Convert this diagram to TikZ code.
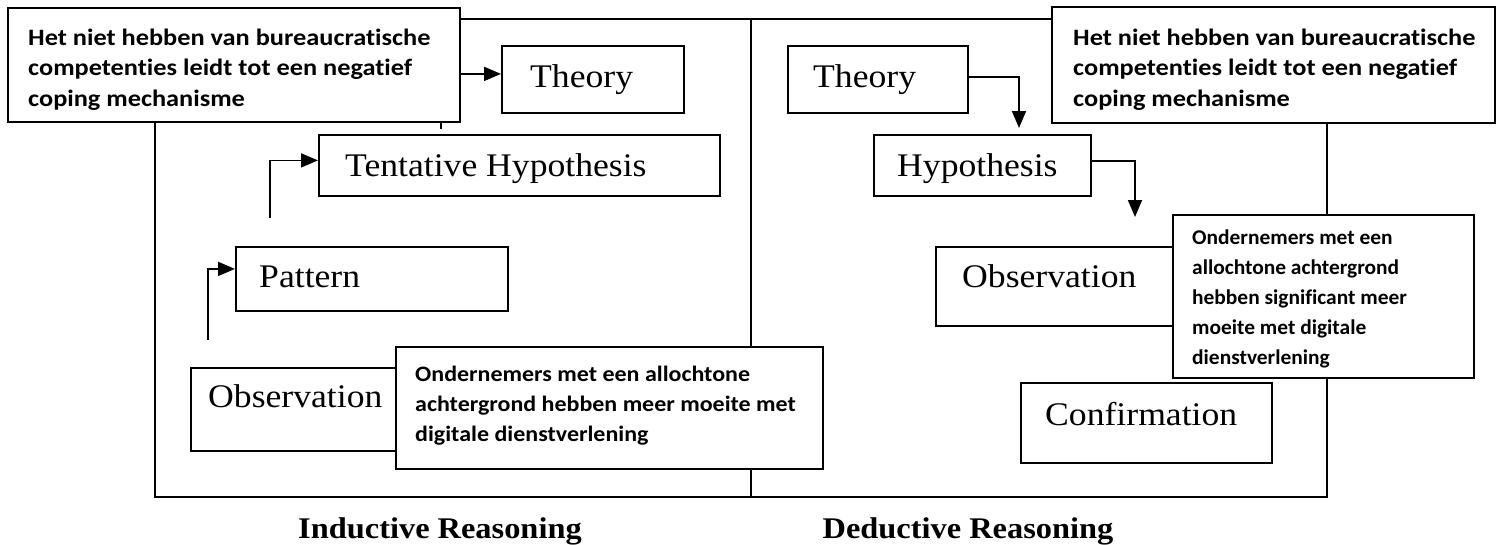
\documentclass[tikz,border=0pt]{standalone}
\usepackage{fontspec}
\usetikzlibrary{arrows.meta,calc}
\newfontfamily\notefontA[FakeStretch=1.12,Ligatures=NoCommon]{Carlito}
\newfontfamily\notefontB[FakeStretch=1.09,Ligatures=NoCommon]{Carlito}
\newfontfamily\notefontC[FakeStretch=1.02,Ligatures=NoCommon]{Carlito}
\newfontfamily\termfont[FakeStretch=1.08]{Liberation Serif}

\begin{document}
\begin{tikzpicture}[x=1pt,y=-1pt,
  stagebox/.style={draw=black, line width=1.8pt, fill=white, inner sep=0pt, anchor=north west},
  notebox/.style={draw=black, line width=1.8pt, fill=white, inner sep=0pt, anchor=north west},
  termtext/.style={anchor=base west, inner sep=0pt, font=\termfont\fontsize{33}{38}\selectfont},
  % multi-line notes: the base anchor sits on the last line
  notetext/.style={anchor=base west, inner sep=0pt, align=left},
  flow/.style={draw=black, line width=1.8pt, -{Triangle[length=17pt,width=14pt]}},
  caption/.style={anchor=base, inner sep=0pt, font=\termfont\bfseries\fontsize{30}{34}\selectfont}
]
\useasboundingbox (0,0) rectangle (1496,544);

% outer frame and the divider between the two halves
\draw[line width=1.8pt] (155,19) rectangle (1327,497);
\draw[line width=1.8pt] (751,19) -- (751,497);

% ---------- inductive half ----------
\node[stagebox, minimum width=182pt, minimum height=67pt] (thL) at (501,45) {};
\node[termtext] (thLt) at (530,87) {Theory};
\node[stagebox, minimum width=401pt, minimum height=61pt] (thyL) at (318,134) {};
\node[termtext] (thyLt) at (345,176) {Tentative Hypothesis};
\node[stagebox, minimum width=272pt, minimum height=64pt] (patL) at (235,246) {};
\node[termtext] (patLt) at (259,287) {Pattern};
\node[stagebox, minimum width=240pt, minimum height=83pt] (obsL) at (190,367) {};
\node[termtext] (obsLt) at (208,407) {Observation};

\coordinate (upA) at (441,129);
\coordinate (upB) at (270,218);
\coordinate (upC) at (208,340);
\draw[flow] (upA) |- ([yshift=5.5pt]thL.west);
\draw[flow] (upB) |- ([yshift=5pt]thyL.west);
\draw[flow] (upC) |- ([yshift=10pt]patL.west);

% ---------- deductive half ----------
\node[stagebox, minimum width=180pt, minimum height=67pt] (thR) at (787,45) {};
\node[termtext] (thRt) at (813,87) {Theory};
\node[stagebox, minimum width=217pt, minimum height=61pt] (hypR) at (873,134) {};
\node[termtext] (hypRt) at (897,176) {Hypothesis};
\node[stagebox, minimum width=260pt, minimum height=79pt] (obsR) at (935,246) {};
\node[termtext] (obsRt) at (962,287) {Observation};
\node[stagebox, minimum width=251pt, minimum height=80pt] (conR) at (1020,382) {};
\node[termtext] (conRt) at (1045,425) {Confirmation};

\coordinate (downA) at (1019,128);
\coordinate (downB) at (1135,217);
\draw[flow] ([yshift=2.5pt]thR.east) -| (downA);
\draw[flow] ([yshift=4.5pt]hypR.east) -| (downB);

% ---------- annotation boxes ----------
\node[notebox, minimum width=452pt, minimum height=114pt] (noteTL) at (7,7) {};
\node[notetext, font=\notefontA\bfseries\fontsize{23.5}{30.5}\selectfont] (noteTLt) at (28,106)
  {Het niet hebben van bureaucratische\\competenties leidt tot een negatief\\coping mechanisme};

\node[notebox, minimum width=443pt, minimum height=116pt] (noteTR) at (1051,6) {};
\node[notetext, font=\notefontA\bfseries\fontsize{23.5}{30.5}\selectfont] (noteTRt) at (1073,106)
  {Het niet hebben van bureaucratische\\competenties leidt tot een negatief\\coping mechanisme};

\node[notebox, minimum width=301pt, minimum height=163pt] (noteOR) at (1172,214) {};
\node[notetext, font=\notefontC\bfseries\fontsize{21}{29.8}\selectfont] (noteORt) at (1192,364)
  {Ondernemers met een\\allochtone achtergrond\\hebben significant meer\\moeite met digitale\\dienstverlening};

\node[notebox, minimum width=427pt, minimum height=122pt] (noteOL) at (395,346) {};
\node[notetext, font=\notefontB\bfseries\fontsize{22}{30}\selectfont] (noteOLt) at (415,441)
  {Ondernemers met een allochtone\\achtergrond hebben meer moeite met\\digitale dienstverlening};

% ---------- captions ----------
\node[caption] (capI) at (440,538) {Inductive Reasoning};
\node[caption] (capD) at (968,538) {Deductive Reasoning};
\end{tikzpicture}
\end{document}
